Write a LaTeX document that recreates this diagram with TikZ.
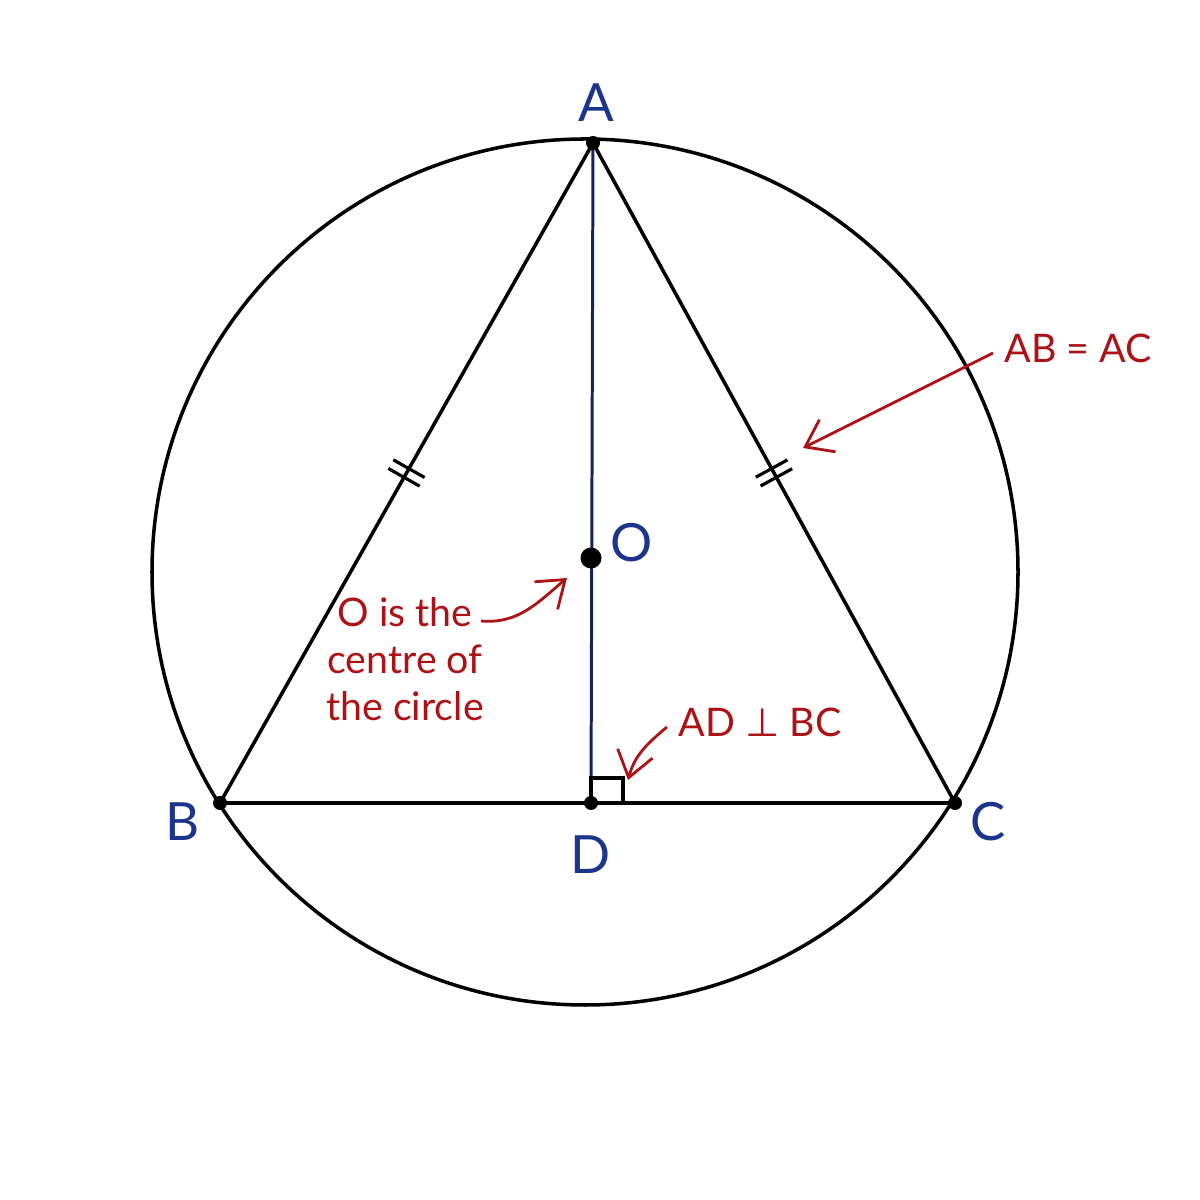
\documentclass[tikz,border=0pt]{standalone}
\usepackage{fontspec}
\setmainfont{Lato}
\newfontfamily\symfont{DejaVu Sans}
\usepackage{tikz}
\usetikzlibrary{calc,arrows.meta,decorations.markings,positioning}

\definecolor{ptblue}{RGB}{28,52,140}
\definecolor{lineblue}{RGB}{22,34,100}
\definecolor{notered}{RGB}{172,18,22}

\tikzset{
  ptlabel/.style={text=ptblue, font=\fontsize{15}{18}\selectfont, inner sep=0pt},
  note/.style={text=notered, font=\fontsize{11.2}{13.4}\selectfont, inner sep=0pt},
  notearrow/.style={draw=notered, line width=0.8pt, -{Straight Barb[length=2.5mm,width=3.6mm]}},
  dot/.style={circle, fill=black, inner sep=0pt, minimum size=1.4mm},
  twoticks/.style={postaction={decorate, decoration={markings, mark=at position 0.5 with {
      \draw[line width=0.9pt] (-0.5mm,-1.8mm) -- (-0.5mm,1.8mm);
      \draw[line width=0.9pt] (0.5mm,-1.8mm) -- (0.5mm,1.8mm);}}}}
}

\begin{document}
\begin{tikzpicture}[x=0.1mm, y=0.1mm, line width=1pt]
\useasboundingbox (0,0) rectangle (1200,1200);
% points
\coordinate (ctr) at (585,628);
\coordinate (A) at (593,1057);
\coordinate (B) at (220,397);
\coordinate (C) at (955,397);
\coordinate (D) at (591,397);
\coordinate (O) at (591,642);

\draw (ctr) circle [radius=433];
\draw [twoticks] (B) -- (A);
\draw [twoticks] (A) -- (C);
\draw (B) -- (C);
\draw [lineblue, line width=0.85pt] (A) -- (D);
% right angle
\draw [line width=0.9pt] (D) rectangle ++(32,25);

\node [dot] at (A) {};
\node [dot] at (B) {};
\node [dot] at (C) {};
\node [dot] at (D) {};
\node [dot, minimum size=2.1mm] at (O) {};

\node [ptlabel] (lA) at (596,1097) {A};
\node [ptlabel] (lB) at (183,378) {B};
\node [ptlabel] (lC) at (988,378) {C};
\node [ptlabel] (lD) at (591,345) {D};
\node [ptlabel] (lO) at (632,657) {O};

% notes
\node [note, anchor=west] (eq) at (1003,852) {AB = AC};
\node [note, anchor=west] (perp) at (677,478) {AD {\symfont ⊥} BC};
\node [note, align=center] (centre) at (405,541) {O is the\\centre of\\the circle};
\coordinate (eqtip) at (803,752);
\coordinate (perptip) at (628,420);
\coordinate (ctrtail) at (481,579);
\coordinate (ctrtip) at (567,622);
\draw [notearrow] ([xshift=-1mm,yshift=-0.5mm]eq.west) -- (eqtip);
\draw [notearrow] ([xshift=-1mm,yshift=-0.5mm]perp.west) to[out=220, in=75] (perptip);
\draw [notearrow] (ctrtail) to[out=-5, in=220] (ctrtip);
\end{tikzpicture}
\end{document}
